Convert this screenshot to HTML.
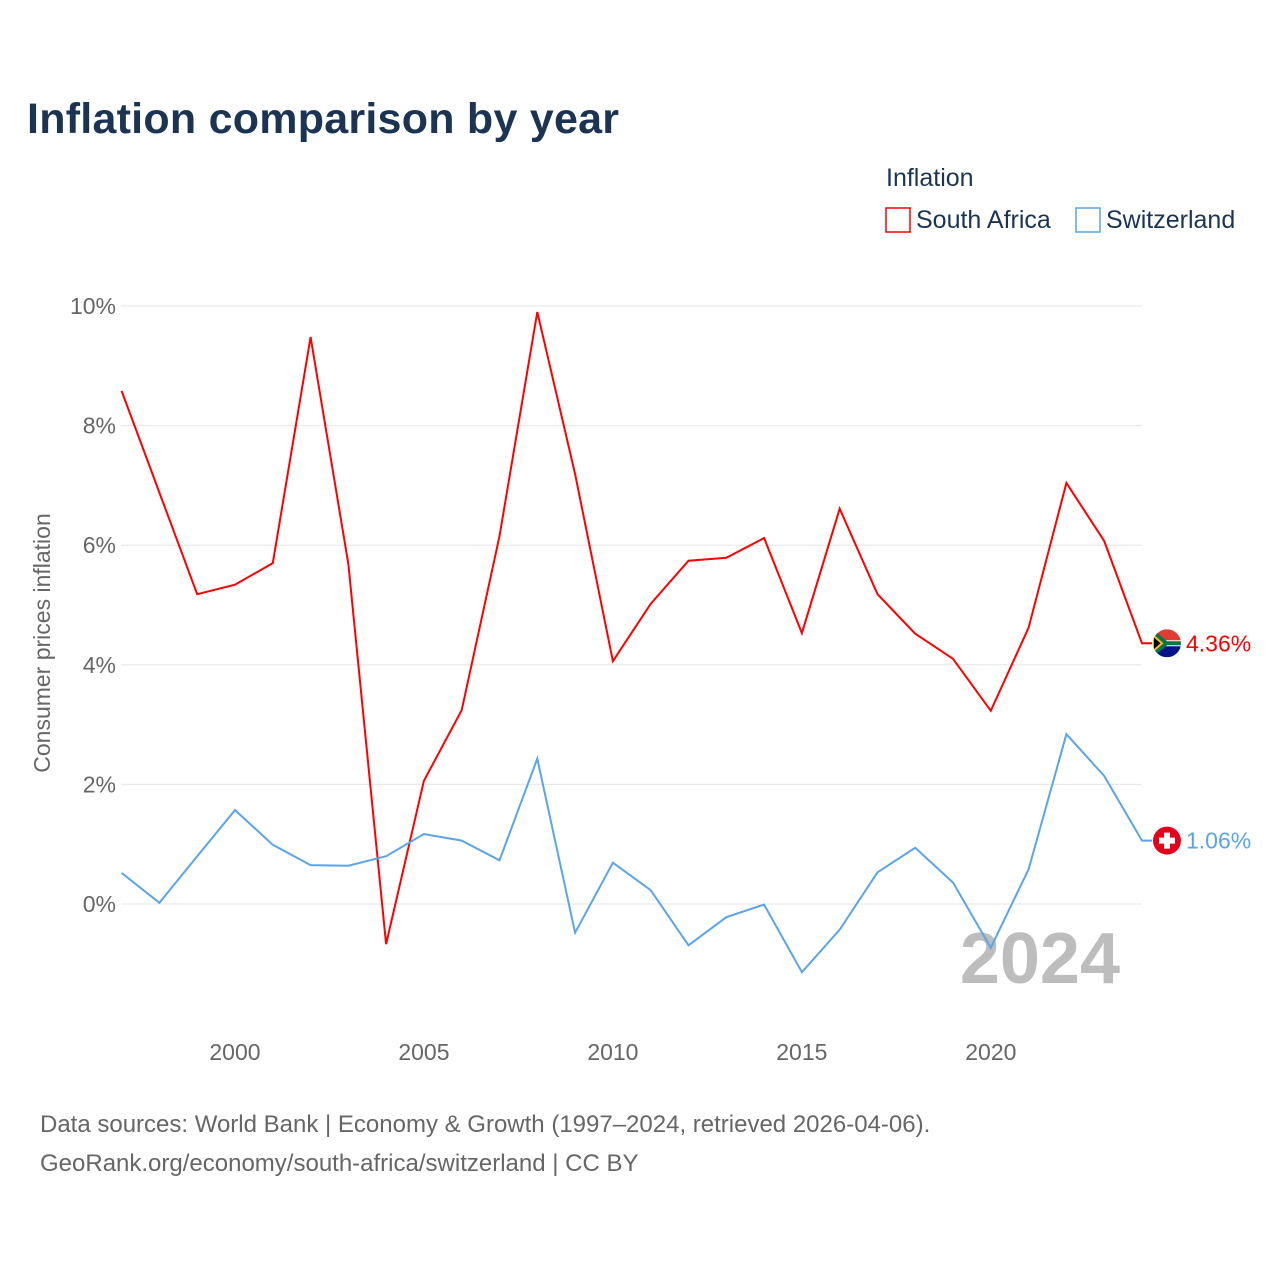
<!DOCTYPE html>
<html><head><meta charset="utf-8"><style>
body{margin:0;background:#fff;font-family:"Liberation Sans",sans-serif}
svg text{font-family:"Liberation Sans",sans-serif}
</style></head><body>
<svg width="1280" height="1280" viewBox="0 0 1280 1280" id="chart">
<defs><clipPath id="saclip"><circle id="saclipc" cx="1167" cy="643" r="14"/></clipPath></defs>
<text x="27" y="133" font-size="43" font-weight="bold" fill="#1c3454" textLength="592">Inflation comparison by year</text>
<text x="886" y="186" font-size="25" fill="#1c3454">Inflation</text>
<g><rect x="886" y="208" width="24" height="24" fill="none" stroke="#ff0000" stroke-width="1.5"/><text x="916" y="228" font-size="25" fill="#1c3454">South Africa</text></g>
<g><rect x="1076" y="208" width="24" height="24" fill="none" stroke="#5aa5ea" stroke-width="1.5"/><text x="1106" y="228" font-size="25" fill="#1c3454">Switzerland</text></g>
<text transform="translate(50,643) rotate(-90)" text-anchor="middle" font-size="23" fill="#666">Consumer prices inflation</text>
<g id="grid"></g><g id="xticks"></g>
<text x="1120" y="983" text-anchor="end" font-size="72" font-weight="bold" fill="#bdbdbd">2024</text>
<g id="series"></g>
<text x="40" y="1132" font-size="24" fill="#666">Data sources: World Bank | Economy &amp; Growth (1997–2024, retrieved 2026-04-06).</text>
<text x="40" y="1171" font-size="24" fill="#666">GeoRank.org/economy/south-africa/switzerland | CC BY</text>
</svg>
<script>
const years=[1997,1998,1999,2000,2001,2002,2003,2004,2005,2006,2007,2008,2009,2010,2011,2012,2013,2014,2015,2016,2017,2018,2019,2020,2021,2022,2023,2024];
const southAfrica=[8.58,6.88,5.18,5.34,5.70,9.48,5.68,-0.67,2.06,3.24,6.15,9.90,7.19,4.06,5.02,5.74,5.79,6.12,4.53,6.61,5.18,4.52,4.10,3.23,4.62,7.04,6.07,4.36];
const switzerland=[0.52,0.02,0.80,1.57,0.99,0.65,0.64,0.80,1.17,1.06,0.73,2.43,-0.48,0.69,0.23,-0.69,-0.22,-0.01,-1.14,-0.43,0.53,0.94,0.36,-0.73,0.58,2.84,2.14,1.06];
const yTicks=[0,2,4,6,8,10];
const xTicks=[2000,2005,2010,2015,2020];
const NS="http://www.w3.org/2000/svg";
function x(y){return 121.6+(y-1997)*(1142-121.6)/27;}
function y(v){return 904-v*59.8;}
function mk(tag,attrs,parent,txt){const e=document.createElementNS(NS,tag);for(const k in attrs)e.setAttribute(k,attrs[k]);if(txt!==undefined)e.textContent=txt;parent.appendChild(e);return e;}
const grid=document.getElementById('grid');
yTicks.forEach(t=>{
 const l=mk('line',{x1:121,x2:1142,y1:y(t),y2:y(t),stroke:'#e6e6e6','stroke-width':1},grid);
 
 
 const tx=mk('text',{x:116,y:y(t)+8,'text-anchor':'end','font-size':23,fill:'#666'},grid,t+'%');
 
 
});
const xt=document.getElementById('xticks');
xTicks.forEach(t=>{
 const tx=mk('text',{x:x(t),y:1060,'text-anchor':'middle','font-size':23,fill:'#666'},xt,String(t));
 
 
});
const sg=document.getElementById('series');
function draw(vals,color,name){
 let d=vals.map((v,i)=>(i?'L':'M')+x(years[i]).toFixed(1)+' '+y(v).toFixed(1)).join(' ');
 const last=vals[vals.length-1];
 d+=' L1152 '+y(last).toFixed(1);
 const p=mk('path',{d:d,fill:'none',stroke:color,'stroke-width':2},sg);
 
 
 const cy=y(last);
 if(name==='switzerland'){
  const c=mk('circle',{cx:1167,cy:cy,r:14,fill:'#e3001b'},sg);
  
  
  const cr=mk('path',{d:`M1164 ${cy-8}h6v5h5v6h-5v5h-6v-5h-5v-6h5z`,fill:'#fff'},sg);
  
  
 } else {
  document.getElementById('saclipc').setAttribute('cy',cy);
  const g=mk('g',{'clip-path':'url(#saclip)'},sg);
  
  
  mk('rect',{x:1153,y:cy-14,width:28,height:28,fill:'#fff'},g);
  mk('path',{d:`M1153 ${cy-14}h28v11h-28z`,fill:'#e03c31'},g);
  mk('path',{d:`M1153 ${cy+3}h28v11h-28z`,fill:'#001489'},g);
  mk('path',{d:`M1153 ${cy-14}l14 12h14v4h-14l-14 12z`,fill:'#007749'},g);
  mk('path',{d:`M1153 ${cy-8}l9 8l-9 8z`,fill:'#000',stroke:'#ffb81c','stroke-width':2},g);
 }
 const lb=mk('text',{x:1186,y:cy+8,'font-size':23,fill:color},sg,last.toFixed(2)+'%');
 
 
}
draw(southAfrica,'#ff0000','south-africa');
draw(switzerland,'#5aa5ea','switzerland');
</script>
</body></html>
